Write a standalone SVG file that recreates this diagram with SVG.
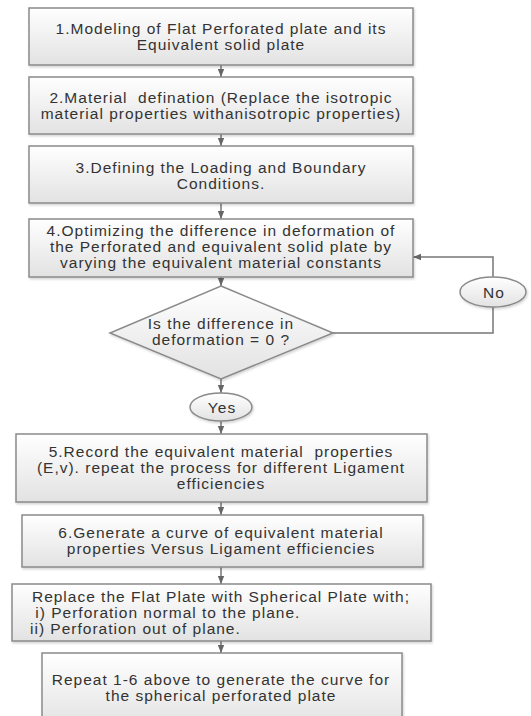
<svg xmlns="http://www.w3.org/2000/svg" width="531" height="716" viewBox="0 0 531 716">
<defs>
<linearGradient id="g" x1="0" y1="0" x2="0" y2="1">
<stop offset="0" stop-color="#ffffff"/>
<stop offset="1" stop-color="#e2e2e2"/>
</linearGradient>
<filter id="sh" x="-5%" y="-10%" width="110%" height="125%">
<feDropShadow dx="1" dy="1.5" stdDeviation="1" flood-color="#000" flood-opacity="0.18"/>
</filter>
<marker id="ah" viewBox="0 0 10 10" refX="10" refY="5" markerWidth="8" markerHeight="8" markerUnits="userSpaceOnUse" orient="auto">
<path d="M0,1 L10,5 L0,9 z" fill="#666"/>
</marker>
</defs>
<style>
.box{fill:url(#g);stroke:#8a8a8a;stroke-width:1.5;filter:url(#sh)}
.t{font-family:"Liberation Sans",Arial,sans-serif;font-size:15.5px;fill:#333;letter-spacing:1px;text-anchor:middle}
.l{text-anchor:start}
.c{fill:none;stroke:#777;stroke-width:1.5;marker-end:url(#ah)}
.cn{fill:none;stroke:#777;stroke-width:1.5}
</style>
<rect width="531" height="716" fill="#fff"/>
<g id="connectors">
<path class="c" d="M221,65 V77"/>
<path class="c" d="M221,134 V146"/>
<path class="c" d="M221,203 V219"/>
<path class="c" d="M221,277 V286"/>
<path class="c" d="M221,379 V393"/>
<path class="c" d="M221,421 V434"/>
<path class="c" d="M221,502 V515"/>
<path class="c" d="M221,567 V584"/>
<path class="c" d="M221,641 V653"/>
<path class="cn" d="M333,333 H493 V307"/>
<path class="c" d="M493,277 V257 H413"/>
</g>
<g id="n1">
<rect class="box" x="29" y="8" width="384" height="57"/>
<text class="t" x="221" y="34">1.Modeling of Flat Perforated plate and its</text>
<text class="t" x="221" y="50">Equivalent solid plate</text>
</g>
<g id="n2">
<rect class="box" x="29" y="77" width="384" height="57"/>
<text class="t" x="221" y="103" xml:space="preserve">2.Material  defination (Replace the isotropic</text>
<text class="t" x="221" y="119">material properties withanisotropic properties)</text>
</g>
<g id="n3">
<rect class="box" x="29" y="146" width="384" height="57"/>
<text class="t" x="221" y="173">3.Defining the Loading and Boundary</text>
<text class="t" x="221" y="189">Conditions.</text>
</g>
<g id="n4">
<rect class="box" x="29" y="219" width="384" height="58"/>
<text class="t" x="221" y="236">4.Optimizing the difference in deformation of</text>
<text class="t" x="221" y="252">the Perforated and equivalent solid plate by</text>
<text class="t" x="221" y="268">varying the equivalent material constants</text>
</g>
<g id="d1">
<path class="box" d="M221,286 L333,333 L221,379 L110,333 z"/>
<text class="t" x="221" y="329">Is the difference in</text>
<text class="t" x="221" y="345">deformation = 0 ?</text>
</g>
<g id="no">
<ellipse class="box" cx="493" cy="292" rx="33" ry="15"/>
<text class="t" x="494" y="298">No</text>
</g>
<g id="yes">
<ellipse class="box" cx="221" cy="407" rx="31" ry="14"/>
<text class="t" x="222" y="413">Yes</text>
</g>
<g id="n5">
<rect class="box" x="16" y="434" width="411" height="68"/>
<text class="t" x="221" y="457" xml:space="preserve">5.Record the equivalent material  properties</text>
<text class="t" x="221" y="473">(E,v). repeat the process for different Ligament</text>
<text class="t" x="221" y="489">efficiencies</text>
</g>
<g id="n6">
<rect class="box" x="22" y="515" width="401" height="52"/>
<text class="t" x="221" y="538">6.Generate a curve of equivalent material</text>
<text class="t" x="221" y="554">properties Versus Ligament efficiencies</text>
</g>
<g id="n7">
<rect class="box" x="12" y="584" width="419" height="57"/>
<text class="t" x="221" y="602">Replace the Flat Plate with Spherical Plate with;</text>
<text class="t l" x="30" y="618" xml:space="preserve"> i) Perforation normal to the plane.</text>
<text class="t l" x="30" y="634">ii) Perforation out of plane.</text>
</g>
<g id="n8">
<rect class="box" x="42" y="653" width="360" height="75"/>
<text class="t" x="221" y="685">Repeat 1-6 above to generate the curve for</text>
<text class="t" x="221" y="701">the spherical perforated plate</text>
</g>
</svg>
